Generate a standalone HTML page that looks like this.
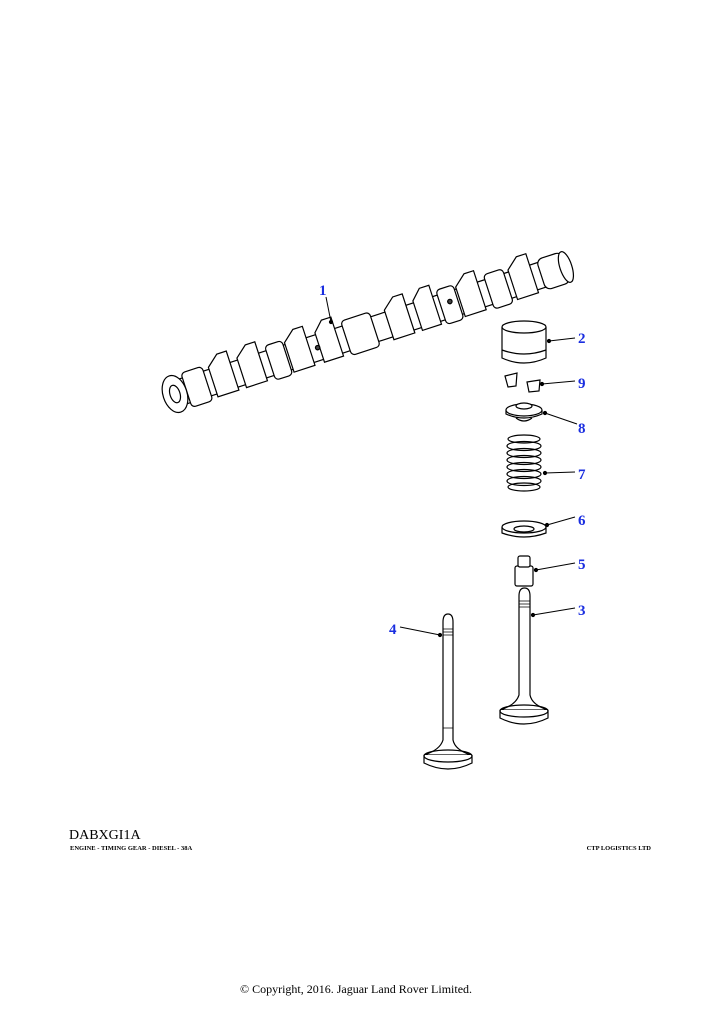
<!DOCTYPE html>
<html><head><meta charset="utf-8"><style>
html,body{margin:0;padding:0;background:#fff;}
.l{font-family:"Liberation Serif",serif;font-weight:bold;font-size:15px;fill:#1a2ee0;}
</style></head><body>
<svg width="724" height="1024" viewBox="0 0 724 1024" xmlns="http://www.w3.org/2000/svg">
<g stroke="#000" stroke-width="1.2" fill="#fff">
<!-- camshaft -->
<g transform="translate(175,394) rotate(-18)">
<rect x="0" y="-13" width="410" height="26"/>
<g>
<path d="M40,-15 L52,-25 L62,-25 L62,16 L40,16 Z"/>
<path d="M70,-15 L82,-25 L92,-25 L92,16 L70,16 Z"/>
<path d="M120,-15 L132,-25 L142,-25 L142,16 L120,16 Z"/>
<path d="M152,-15 L162,-25 L172,-25 L172,16 L152,16 Z"/>
<path d="M225,-15 L237,-25 L247,-25 L247,16 L225,16 Z"/>
<path d="M255,-15 L265,-25 L275,-25 L275,16 L255,16 Z"/>
<path d="M300,-15 L312,-25 L322,-25 L322,16 L300,16 Z"/>
<path d="M355,-15 L367,-25 L377,-25 L377,16 L355,16 Z"/>
</g>
<rect x="12" y="-18" width="22" height="36" rx="4"/>
<rect x="100" y="-18" width="18" height="36" rx="4"/>
<rect x="180" y="-18" width="30" height="36" rx="4"/>
<rect x="280" y="-18" width="18" height="36" rx="4"/>
<rect x="330" y="-18" width="20" height="36" rx="4"/>
<rect x="385" y="-16" width="26" height="32" rx="6"/>
<ellipse cx="411" cy="0" rx="6" ry="16"/>
<circle cx="150" cy="0" r="2.2" fill="#444"/>
<circle cx="290" cy="-3" r="2.2" fill="#444"/>
<ellipse cx="0" cy="0" rx="12" ry="19"/>
<ellipse cx="0" cy="0" rx="5" ry="9"/>
</g>
<!-- tappet 2 -->
<path d="M502,327 L502,358 Q524,368 546,358 L546,327"/>
<ellipse cx="524" cy="327" rx="22" ry="6"/>
<path d="M502,350 Q524,358 546,350" fill="none"/>
<!-- keys 9 -->
<path d="M505,376 L517,373 L516,386 L508,387 Z"/>
<path d="M527,382 L540,380 L539,391 L529,392 Z"/>
<!-- retainer 8 -->
<path d="M506,410 L506,414 Q524,422 542,414 L542,410"/>
<ellipse cx="524" cy="410" rx="18" ry="6"/>
<ellipse cx="524" cy="406" rx="8" ry="3"/>
<path d="M516,418 Q524,424 532,418" fill="none"/>
<!-- spring 7 -->
<g fill="none">
<ellipse cx="524" cy="439" rx="16" ry="4"/>
<ellipse cx="524" cy="446" rx="17" ry="4.5"/>
<ellipse cx="524" cy="453" rx="17" ry="4.5"/>
<ellipse cx="524" cy="460" rx="17" ry="4.5"/>
<ellipse cx="524" cy="467" rx="17" ry="4.5"/>
<ellipse cx="524" cy="474" rx="17" ry="4.5"/>
<ellipse cx="524" cy="481" rx="17" ry="4.5"/>
<ellipse cx="524" cy="487" rx="16" ry="4"/>
</g>
<!-- seat 6 -->
<path d="M502,527 L502,533 Q524,541 546,533 L546,527"/>
<ellipse cx="524" cy="527" rx="22" ry="6"/>
<ellipse cx="524" cy="529" rx="10" ry="3" fill="none"/>
<!-- seal 5 -->
<rect x="515" y="566" width="18" height="20" rx="2"/>
<rect x="518" y="556" width="12" height="11" rx="2"/>
<!-- valve 3 -->
<path d="M519,596 Q519,588 524.5,588 Q530,588 530,596 L530,695 Q532,705 548,710 L500,710 Q516,705 519,695 Z"/>
<path d="M500,710 L500,718 Q524,730 548,718 L548,710" />
<ellipse cx="524" cy="711" rx="24" ry="6" fill="none"/>
<path d="M519,601 H530 M519,604 H530 M519,607 H530" fill="none" stroke-width="0.8"/>
<!-- valve 4 -->
<path d="M443,622 Q443,614 448,614 Q453,614 453,622 L453,740 Q455,750 471,755 L424,755 Q440,750 443,740 Z"/>
<path d="M424,755 L424,763 Q448,775 472,763 L472,755"/>
<ellipse cx="448" cy="756" rx="24" ry="6" fill="none"/>
<path d="M443,629 H453 M443,632 H453 M443,635 H453 M443,728 H453" fill="none" stroke-width="0.8"/>
</g>
<g stroke="#000" stroke-width="1" fill="#000">
<line x1="326" y1="297" x2="331" y2="322"/><circle cx="331" cy="322" r="1.6"/>
<line x1="575" y1="338" x2="549" y2="341"/><circle cx="549" cy="341" r="1.6"/>
<line x1="575" y1="381" x2="542" y2="384"/><circle cx="542" cy="384" r="1.6"/>
<line x1="577" y1="424" x2="545" y2="413"/><circle cx="545" cy="413" r="1.6"/>
<line x1="575" y1="472" x2="545" y2="473"/><circle cx="545" cy="473" r="1.6"/>
<line x1="575" y1="517" x2="547" y2="525"/><circle cx="547" cy="525" r="1.6"/>
<line x1="575" y1="563" x2="536" y2="570"/><circle cx="536" cy="570" r="1.6"/>
<line x1="575" y1="608" x2="533" y2="615"/><circle cx="533" cy="615" r="1.6"/>
<line x1="400" y1="627" x2="440" y2="635"/><circle cx="440" cy="635" r="1.6"/>
</g>
<text class="l" x="319" y="295">1</text>
<text class="l" x="578" y="343">2</text>
<text class="l" x="578" y="388">9</text>
<text class="l" x="578" y="433">8</text>
<text class="l" x="578" y="479">7</text>
<text class="l" x="578" y="525">6</text>
<text class="l" x="578" y="569">5</text>
<text class="l" x="578" y="615">3</text>
<text class="l" x="389" y="634">4</text>
<text x="69" y="839" font-family="Liberation Serif,serif" font-size="14">DABXGI1A</text>
<text x="70" y="850" font-family="Liberation Serif,serif" font-size="6.5" font-weight="bold">ENGINE - TIMING GEAR - DIESEL - 38A</text>
<text x="651" y="850" text-anchor="end" font-family="Liberation Serif,serif" font-size="6.5" font-weight="bold">CTP LOGISTICS LTD</text>
<text x="356" y="993" text-anchor="middle" font-family="Liberation Serif,serif" font-size="12">© Copyright, 2016. Jaguar Land Rover Limited.</text>
</svg>
</body></html>
